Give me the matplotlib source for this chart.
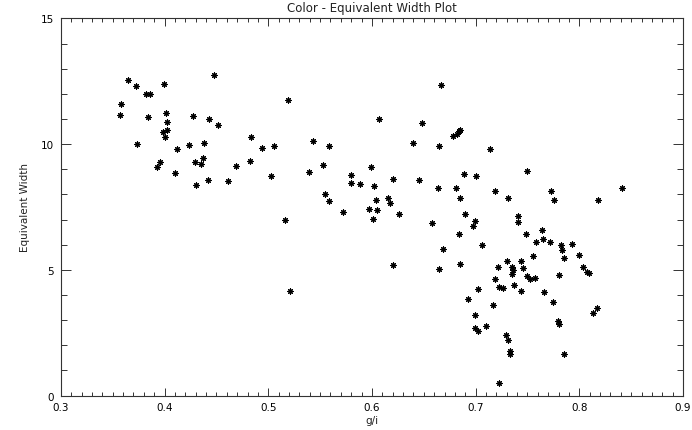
import numpy as np
import matplotlib.pyplot as plt
from matplotlib.ticker import MultipleLocator

# ---------------------------------------------------------------
# Data (g/i colour vs EW)
# ---------------------------------------------------------------
g_i = [
    0.365, 0.372, 0.358, 0.357, 0.382, 0.386, 0.399, 0.384, 0.401, 0.402,
    0.398, 0.402, 0.400, 0.373, 0.412, 0.424, 0.438, 0.396, 0.393, 0.410,
    0.429, 0.435, 0.437, 0.430, 0.442, 0.427, 0.443, 0.452, 0.448, 0.483,
    0.494, 0.506, 0.469, 0.482, 0.461, 0.503, 0.519, 0.516, 0.521, 0.543,
    0.559, 0.539, 0.553, 0.555, 0.559, 0.572, 0.580, 0.580, 0.588, 0.599,
    0.602, 0.604, 0.597, 0.605, 0.601, 0.615, 0.617, 0.620, 0.626, 0.620,
    0.607, 0.640, 0.648, 0.645, 0.667, 0.665, 0.664, 0.658, 0.669, 0.665,
    0.678, 0.682, 0.684, 0.685, 0.681, 0.685, 0.689, 0.700, 0.690, 0.699,
    0.697, 0.684, 0.685, 0.706, 0.714, 0.719, 0.731, 0.750, 0.773, 0.776,
    0.818, 0.841, 0.741, 0.741, 0.749, 0.764, 0.765, 0.758, 0.772, 0.782,
    0.783, 0.793, 0.800, 0.755, 0.785, 0.804, 0.807, 0.809, 0.730, 0.722,
    0.735, 0.736, 0.735, 0.744, 0.746, 0.750, 0.752, 0.719, 0.723, 0.726,
    0.737, 0.744, 0.757, 0.780, 0.766, 0.702, 0.693, 0.717, 0.775, 0.817,
    0.813, 0.699, 0.699, 0.702, 0.710, 0.729, 0.731, 0.733, 0.733, 0.779,
    0.780, 0.785, 0.723,
]
eq_width = [
    12.56, 12.32, 11.58, 11.17, 11.98, 11.98, 12.39, 11.06, 11.22, 10.88,
    10.47, 10.56, 10.30, 10.02, 9.81, 9.98, 10.04, 9.30, 9.10, 8.84,
    9.28, 9.20, 9.46, 8.37, 8.56, 11.12, 11.00, 10.75, 12.73, 10.30,
    9.83, 9.91, 9.14, 9.34, 8.55, 8.72, 11.77, 6.98, 4.16, 10.11,
    9.91, 8.89, 9.16, 8.03, 7.75, 7.31, 8.77, 8.44, 8.41, 9.10,
    8.33, 7.78, 7.42, 7.39, 7.01, 7.87, 7.67, 8.61, 7.22, 5.19,
    11.00, 10.06, 10.85, 8.59, 12.35, 9.94, 8.27, 6.86, 5.83, 5.05,
    10.32, 10.41, 10.51, 10.57, 8.24, 7.87, 8.82, 8.75, 7.21, 6.96,
    6.76, 6.41, 5.22, 6.00, 9.81, 8.12, 7.84, 8.93, 8.12, 7.78,
    7.78, 8.27, 7.14, 6.92, 6.41, 6.60, 6.21, 6.12, 6.10, 5.98,
    5.80, 6.04, 5.59, 5.55, 5.47, 5.13, 4.90, 4.88, 5.34, 5.13,
    5.13, 5.00, 4.82, 5.34, 5.06, 4.76, 4.62, 4.64, 4.33, 4.29,
    4.40, 4.16, 4.66, 4.78, 4.11, 4.24, 3.82, 3.59, 3.71, 3.48,
    3.29, 3.22, 2.70, 2.56, 2.77, 2.42, 2.19, 1.79, 1.66, 2.97,
    2.85, 1.67, 0.50,
]

x_ticks = [0.3, 0.4, 0.5, 0.6, 0.7, 0.8, 0.9]
y_ticks = [0, 5, 10, 15]

# ---------------------------------------------------------------
# IDL-style plot
# ---------------------------------------------------------------
fig = plt.figure(figsize=(6.92, 4.31), dpi=100)
ax = fig.add_axes([0.088, 0.08, 0.899, 0.875])

ax.scatter(g_i, eq_width, marker=(8, 2, 0), s=15, color='black', linewidths=0.8)

ax.set_xlim(0.3, 0.9)
ax.set_ylim(0, 15)
ax.set_xticks(x_ticks)
ax.set_yticks(y_ticks)
ax.set_xticklabels([f"{v:.1f}" for v in x_ticks])
ax.set_yticklabels([str(v) for v in y_ticks])
ax.xaxis.set_minor_locator(MultipleLocator(0.01))
ax.yaxis.set_minor_locator(MultipleLocator(1))

ax.tick_params(which='both', direction='in', top=True, right=True,
               color='#333333', width=0.7, labelsize=7.5, pad=5)
ax.tick_params(axis='x', which='major', length=6)
ax.tick_params(axis='x', which='minor', length=3)
ax.tick_params(axis='y', which='major', length=7)
ax.tick_params(axis='y', which='minor', length=4)
for sp in ax.spines.values():
    sp.set_linewidth(0.8)
    sp.set_color('#333333')

ax.set_title("Color - Equivalent Width Plot", fontsize=8.5, pad=5, color='#222222')
ax.set_xlabel("g/i", fontsize=7.5, labelpad=2, color='#222222')
ax.set_ylabel("Equivalent Width", fontsize=7.5, labelpad=8, color='#222222')

plt.savefig("out.png", dpi=100)
